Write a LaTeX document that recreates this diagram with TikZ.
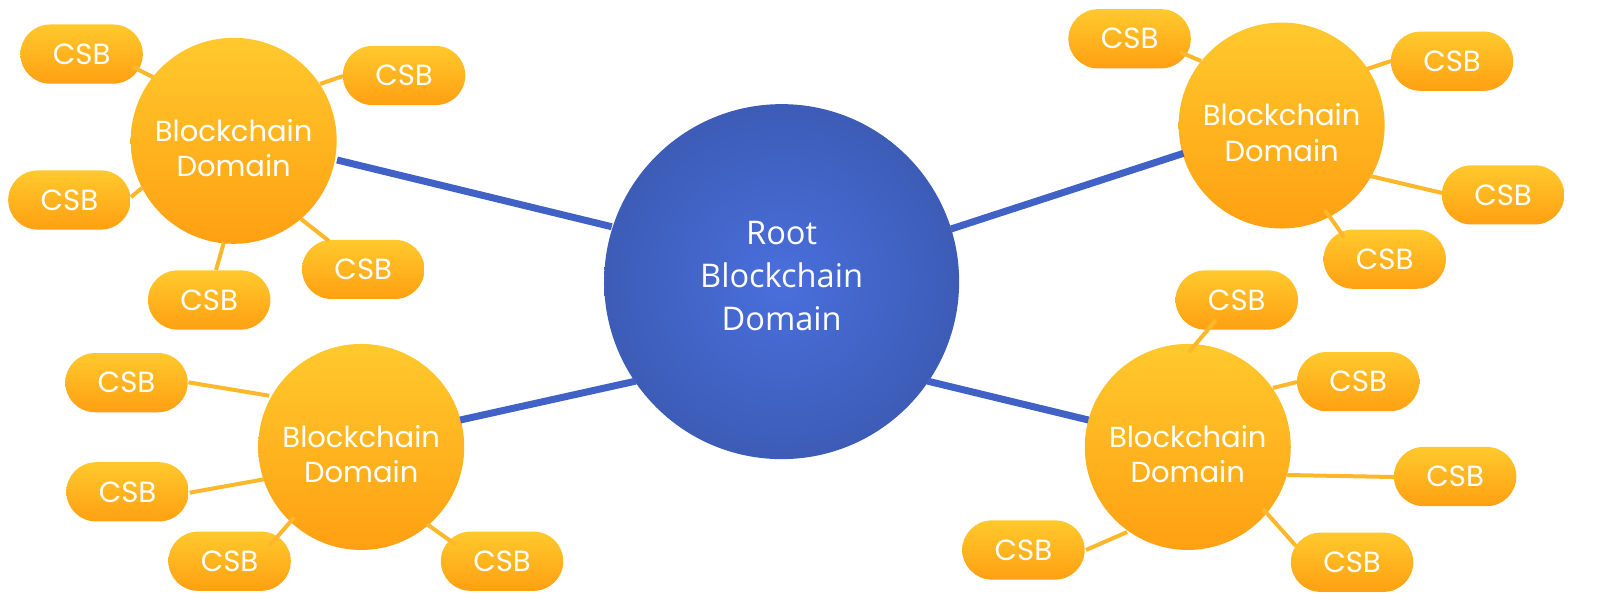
\documentclass[tikz,border=0pt]{standalone}
\usepackage{fontspec}
\setmainfont{Poppins}
\newfontfamily\rootfont{Open Sans}
\definecolor{orTop}{HTML}{FFC92D}
\definecolor{orBot}{HTML}{FFA012}
\definecolor{orLine}{HTML}{FDB72A}
\definecolor{blIn}{HTML}{4A6FDD}
\definecolor{blOut}{HTML}{3C5CB6}
\definecolor{blLine}{HTML}{4061C6}
\tikzset{
  csb/.style={rectangle, rounded corners=14.8pt, minimum width=61.2pt, minimum height=29.6pt,
    top color=orTop, bottom color=orBot, draw=none, text=white, font=\fontsize{14.6}{16}\selectfont, inner sep=0pt},
  dom/.style={circle, minimum size=103pt, inner sep=0pt, top color=orTop, bottom color=orBot, draw=none},
  domtxt/.style={align=center, text=white, inner sep=0pt, yshift=-3.6pt, font=\fontsize{14.5}{17.8}\selectfont},
  rootnode/.style={circle, minimum size=177.5pt, inner sep=0pt, inner color=blIn, outer color=blOut, draw=none},
  roottxt/.style={align=center, text=white, inner sep=0pt, yshift=3pt, font=\rootfont\fontsize{16.3}{21.5}\selectfont},
  leaf/.style={draw=orLine, line width=2pt},
  trunk/.style={draw=blLine, line width=3.5pt}
}
\begin{document}
\begin{tikzpicture}[x=0.5102pt, y=-0.5102pt]
\useasboundingbox (0,0) rectangle (1568,588);
\node[rootnode, label={[roottxt]center:{Root\\Blockchain\\Domain}}] (root) at (766,276) {};
\node[dom, label={[domtxt]center:{Blockchain\\Domain}}] (d1) at (229,138) {};
\node[dom, label={[domtxt]center:{Blockchain\\Domain}}] (d2) at (354,438) {};
\node[dom, label={[domtxt]center:{Blockchain\\Domain}}] (d3) at (1256,123) {};
\node[dom, label={[domtxt]center:{Blockchain\\Domain}}] (d4) at (1164,438) {};
% group 1
\node[csb] (a1) at (80,53) {CSB};
\node[csb] (a2) at (396,74) {CSB};
\node[csb] (a3) at (68,196) {CSB};
\node[csb] (a4) at (356,264) {CSB};
\node[csb] (a5) at (205,294) {CSB};
% group 2
\node[csb] (b1) at (124,375) {CSB};
\node[csb] (b2) at (125,482) {CSB};
\node[csb] (b3) at (225,550) {CSB};
\node[csb] (b4) at (492,550) {CSB};
% group 3
\node[csb] (c1) at (1107,38) {CSB};
\node[csb] (c2) at (1423,60) {CSB};
\node[csb] (c3) at (1473,191) {CSB};
\node[csb] (c4) at (1357,254) {CSB};
% group 4
\node[csb] (e1) at (1212,294) {CSB};
\node[csb] (e2) at (1331,374) {CSB};
\node[csb] (e3) at (1426,467) {CSB};
\node[csb] (e4) at (1003,539) {CSB};
\node[csb] (e5) at (1325,551) {CSB};
% trunks
\draw[trunk] ([shift={(-166.5,-53.8)}]root.center) -- ([shift={(101.3,18.8)}]d1.center);
\draw[trunk] ([shift={(-143,97.5)}]root.center) -- ([shift={(97.1,-26.4)}]d2.center);
\draw[trunk] ([shift={(166,-51.6)}]root.center) -- ([shift={(-96.3,27.3)}]d3.center);
\draw[trunk] ([shift={(143,97.5)}]root.center) -- ([shift={(-97.4,-26.4)}]d4.center);
% group 1 links
\draw[leaf] ([shift={(-79.1,-62.5)}]d1.center) -- ([shift={(50.3,12.7)}]a1.center);
\draw[leaf] ([shift={(84.6,-55.7)}]d1.center) -- ([shift={(-59.9,0.5)}]a2.center);
\draw[leaf] ([shift={(-89.8,46.2)}]d1.center) -- ([shift={(60.4,-2.9)}]a3.center);
\draw[leaf] ([shift={(66,76.6)}]d1.center) -- ([shift={(-33.6,-27.8)}]a4.center);
\draw[leaf] ([shift={(-9.5,99.2)}]d1.center) -- ([shift={(6.7,-29.4)}]a5.center);
% group 2 links
\draw[leaf] ([shift={(-90.1,-50.2)}]d2.center) -- ([shift={(60.7,-0.3)}]b1.center);
\draw[leaf] ([shift={(-95,31.7)}]d2.center) -- ([shift={(60.9,0.8)}]b2.center);
\draw[leaf] ([shift={(-65.7,69)}]d2.center) -- ([shift={(38.9,-14.9)}]b3.center);
\draw[leaf] ([shift={(64.5,75.8)}]d2.center) -- ([shift={(-44.9,-15.9)}]b4.center);
% group 3 links
\draw[leaf] ([shift={(-79,-63.2)}]d3.center) -- ([shift={(49.4,13)}]c1.center);
\draw[leaf] ([shift={(83.7,-55.4)}]d3.center) -- ([shift={(-59.8,-0.2)}]c2.center);
\draw[leaf] ([shift={(86.6,49.5)}]d3.center) -- ([shift={(-59.8,-1.9)}]c3.center);
\draw[leaf] ([shift={(42.5,82.8)}]d3.center) -- ([shift={(-39.9,-21.7)}]c4.center);
% group 4 links
\draw[leaf] ([shift={(1.2,-93)}]d4.center) -- ([shift={(-20.3,19.6)}]e1.center);
\draw[leaf] ([shift={(83.5,-57.8)}]d4.center) -- ([shift={(-59.9,0.4)}]e2.center);
\draw[leaf] ([shift={(97.3,27.5)}]d4.center) -- ([shift={(-58.9,0.5)}]e3.center);
\draw[leaf] ([shift={(-59.5,83.4)}]d4.center) -- ([shift={(61.3,0)}]e4.center);
\draw[leaf] ([shift={(73.7,60.8)}]d4.center) -- ([shift={(-54.9,-15.9)}]e5.center);
\end{tikzpicture}
\end{document}
